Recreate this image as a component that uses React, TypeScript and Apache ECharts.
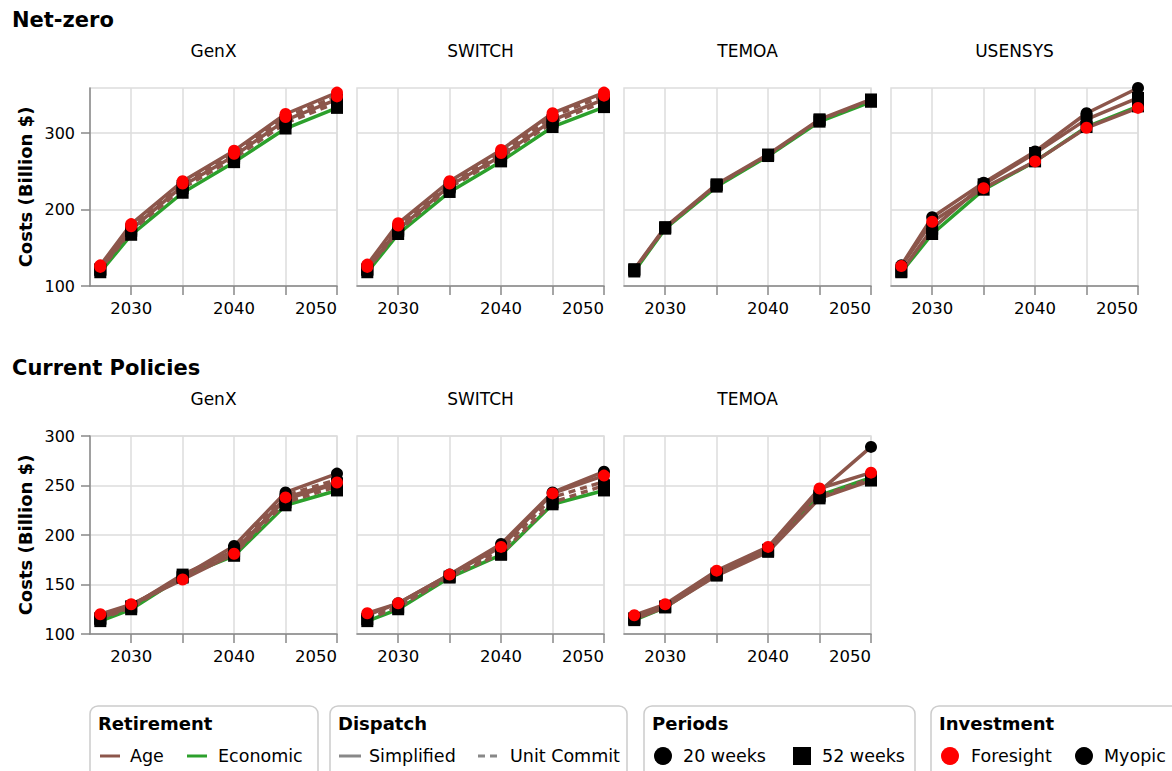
import React, { useEffect, useRef } from "react";
import * as echarts from "echarts";

const FONT = "DejaVu Sans";

const years = [2027, 2030, 2035, 2040, 2045, 2050];
const xLabelValues = [2030, 2040, 2050];
const xTickValues = [2030, 2035, 2040, 2045, 2050];
const nzYTicks = [100, 200, 300];
const cpYTicks = [100, 150, 200, 250, 300];

const rowTitles = ["Net-zero", "Current Policies"];
const nzModels = ["GenX", "SWITCH", "TEMOA", "USENSYS"];
const cpModels = ["GenX", "SWITCH", "TEMOA"];

const retirementLabels = ["Age", "Economic"];
const dispatchLabels = ["Simplified", "Unit Commit"];
const periodLabels = ["20 weeks", "52 weeks"];
const investmentLabels = ["Foresight", "Myopic"];

// Net-zero GenX
const nzGenxEcoSimp52Myo = [118, 167, 222, 262, 306, 333];
const nzGenxAgeUc52Myo = [121, 172, 228, 267, 313, 340];
const nzGenxAgeSimp52Myo = [122, 174, 231, 270, 317, 344];
const nzGenxAgeUc20For = [125, 178, 234, 273, 321, 348];
const nzGenxAgeSimp20For = [127, 181, 237, 277, 325, 353];
// Net-zero SWITCH
const nzSwitchEcoSimp52Myo = [118, 168, 223, 263, 308, 334];
const nzSwitchAgeUc52Myo = [121, 172, 229, 268, 314, 341];
const nzSwitchAgeSimp52Myo = [122, 174, 231, 270, 317, 344];
const nzSwitchAgeUc20For = [125, 179, 234, 274, 322, 349];
const nzSwitchAgeSimp20For = [128, 182, 237, 278, 326, 353];
// Net-zero TEMOA
const nzTemoaEcoSimp52Myo = [119, 175, 230, 270, 315, 341];
const nzTemoaAgeUc52Myo = [121, 176, 232, 271, 317, 343];
const nzTemoaAgeSimp52Myo = [122, 177, 233, 272, 318, 344];
// Net-zero USENSYS
const nzUsensysEcoSimp52Myo = [118, 168, 226, 263, 308, 335];
const nzUsensysAgeSimp20For = [126, 184, 228, 263, 307, 333];
const nzUsensysAgeSimp52Myo = [119, 175, 233, 274, 318, 346];
const nzUsensysAgeSimp20Myo = [127, 190, 235, 276, 326, 359];
// Current Policies GenX
const cpGenxEcoSimp52Myo = [113, 125, 158, 179, 230, 245];
const cpGenxAgeUc52Myo = [115, 127, 157, 181, 233, 249];
const cpGenxAgeSimp52Myo = [116, 128, 160, 184, 236, 252];
const cpGenxAgeUc20Myo = [118, 129, 157, 186, 240, 256];
const cpGenxAgeSimp20Myo = [119, 129, 158, 189, 243, 262];
const cpGenxAgeSimp20For = [120, 130, 155, 181, 238, 253];
// Current Policies SWITCH
const cpSwitchEcoSimp52Myo = [113, 125, 157, 180, 231, 245];
const cpSwitchAgeUc52Myo = [115, 127, 158, 181, 233, 250];
const cpSwitchAgeUc20Myo = [118, 129, 158, 185, 238, 254];
const cpSwitchAgeSimp20Myo = [119, 131, 160, 191, 243, 264];
const cpSwitchAgeSimp20For = [121, 131, 160, 188, 242, 260];
// Current Policies TEMOA
const cpTemoaEcoSimp52Myo = [114, 127, 160, 184, 240, 258];
const cpTemoaAgeSimp52Myo = [115, 127, 159, 183, 237, 255];
const cpTemoaAgeUc52Myo = [116, 128, 161, 185, 239, 257];
const cpTemoaAgeSimp20Myo = [118, 129, 162, 187, 244, 289];
const cpTemoaAgeSimp20For = [119, 130, 164, 188, 247, 263];

type S = { ret: number; disp: number; per: number; inv: number; data: number[] };
const mk = (ret: number, disp: number, per: number, inv: number, data: number[]): S => ({ ret, disp, per, inv, data });

const panels = [
  { row: 0, col: 0, series: [mk(1, 0, 1, 1, nzGenxEcoSimp52Myo), mk(0, 1, 1, 1, nzGenxAgeUc52Myo), mk(0, 0, 1, 1, nzGenxAgeSimp52Myo), mk(0, 1, 0, 0, nzGenxAgeUc20For), mk(0, 0, 0, 0, nzGenxAgeSimp20For)] },
  { row: 0, col: 1, series: [mk(1, 0, 1, 1, nzSwitchEcoSimp52Myo), mk(0, 1, 1, 1, nzSwitchAgeUc52Myo), mk(0, 0, 1, 1, nzSwitchAgeSimp52Myo), mk(0, 1, 0, 0, nzSwitchAgeUc20For), mk(0, 0, 0, 0, nzSwitchAgeSimp20For)] },
  { row: 0, col: 2, series: [mk(1, 0, 1, 1, nzTemoaEcoSimp52Myo), mk(0, 1, 1, 1, nzTemoaAgeUc52Myo), mk(0, 0, 1, 1, nzTemoaAgeSimp52Myo)] },
  { row: 0, col: 3, series: [mk(1, 0, 1, 1, nzUsensysEcoSimp52Myo), mk(0, 0, 0, 0, nzUsensysAgeSimp20For), mk(0, 0, 1, 1, nzUsensysAgeSimp52Myo), mk(0, 0, 0, 1, nzUsensysAgeSimp20Myo)] },
  { row: 1, col: 0, series: [mk(1, 0, 1, 1, cpGenxEcoSimp52Myo), mk(0, 1, 1, 1, cpGenxAgeUc52Myo), mk(0, 0, 1, 1, cpGenxAgeSimp52Myo), mk(0, 1, 0, 1, cpGenxAgeUc20Myo), mk(0, 0, 0, 1, cpGenxAgeSimp20Myo), mk(0, 0, 0, 0, cpGenxAgeSimp20For)] },
  { row: 1, col: 1, series: [mk(1, 0, 1, 1, cpSwitchEcoSimp52Myo), mk(0, 1, 1, 1, cpSwitchAgeUc52Myo), mk(0, 1, 0, 1, cpSwitchAgeUc20Myo), mk(0, 0, 0, 1, cpSwitchAgeSimp20Myo), mk(0, 0, 0, 0, cpSwitchAgeSimp20For)] },
  { row: 1, col: 2, series: [mk(1, 0, 1, 1, cpTemoaEcoSimp52Myo), mk(0, 0, 1, 1, cpTemoaAgeSimp52Myo), mk(0, 1, 1, 1, cpTemoaAgeUc52Myo), mk(0, 0, 0, 1, cpTemoaAgeSimp20Myo), mk(0, 0, 0, 0, cpTemoaAgeSimp20For)] },
];

const RET_COLORS = ["#8c564b", "#2ca02c"];
const INV_COLORS = ["#ff0000", "#000000"];
const DASH: any[] = ["solid", [7, 5]];

const GRID_LEFTS = [90, 357, 624, 891];
const GRID_TOPS = [88, 436];
const GW = 247;
const GH = 198;
const ROW_SHIFT = 348;

function buildOption() {
  const grid: any[] = [];
  const xAxis: any[] = [];
  const yAxis: any[] = [];
  const series: any[] = [];
  panels.forEach((p, gi) => {
    grid.push({
      left: GRID_LEFTS[p.col], top: GRID_TOPS[p.row], width: GW, height: GH,
      show: true, borderColor: "#dddddd", borderWidth: 1.5, backgroundColor: "transparent",
    });
    xAxis.push({
      type: "value", gridIndex: gi, min: 2026, max: 2050,
      axisLine: { show: true, onZero: false, lineStyle: { color: "#888888", width: 1.5 } },
      axisTick: { show: true, length: 9, customValues: xTickValues, lineStyle: { color: "#888888", width: 1.5 } },
      axisLabel: { customValues: xLabelValues, alignMaxLabel: "right", formatter: (v: number) => String(v), fontSize: 16.5, fontFamily: FONT, color: "#000", margin: 14 },
      splitLine: { show: true, lineStyle: { color: "#dddddd", width: 1.5 } },
    });
    const first = p.col === 0;
    const nz = p.row === 0;
    yAxis.push({
      type: "value", gridIndex: gi, min: 100, max: nz ? 359 : 300, interval: nz ? 100 : 50,
      axisLine: { show: first, lineStyle: { color: "#888888", width: 1.5 } },
      axisTick: { show: first, length: 9, customValues: nz ? nzYTicks : cpYTicks, lineStyle: { color: "#888888", width: 1.5 } },
      axisLabel: { show: first, customValues: nz ? nzYTicks : cpYTicks, fontSize: 16, fontFamily: FONT, color: "#000", margin: 15 },
      splitLine: { show: true, lineStyle: { color: "#dddddd", width: 1.5 } },
    });
    p.series.forEach((s) => {
      const pts = years.map((y, i) => [y, s.data[i]]);
      series.push({
        type: "line", xAxisIndex: gi, yAxisIndex: gi, data: pts, silent: true,
        showSymbol: false, symbol: "none", z: s.ret === 1 ? 2 : 3,
        lineStyle: { color: RET_COLORS[s.ret], width: 3.5, type: DASH[s.disp] },
      });
    });
    p.series.forEach((s) => {
      const pts = years.map((y, i) => [y, s.data[i]]);
      series.push({
        type: "scatter", xAxisIndex: gi, yAxisIndex: gi, data: pts, silent: true,
        symbol: s.per === 0 ? "circle" : "rect", symbolSize: 12,
        z: s.inv === 0 ? 7 : s.per === 0 ? 6 : 5,
        itemStyle: { color: INV_COLORS[s.inv], opacity: 1 },
      });
    });
  });

  const graphic: any[] = [];
  const txt = (x: number, y: number, text: string, size: number, bold: boolean, align = "left", rotation = 0) => ({
    type: "text", x, y, rotation, silent: true,
    style: { text, fontSize: size, fontFamily: FONT, fontWeight: bold ? "bold" : "normal", fill: "#000", align, verticalAlign: "middle" },
  });
  rowTitles.forEach((t, r) => {
    graphic.push(txt(12, 20 + r * ROW_SHIFT, t, 21, true));
    graphic.push(txt(25, GRID_TOPS[r] + GH / 2, "Costs (Billion $)", 18, true, "center", Math.PI / 2));
  });
  nzModels.forEach((m, c) => graphic.push(txt(GRID_LEFTS[c] + GW / 2, 51, m, 17, false, "center")));
  cpModels.forEach((m, c) => graphic.push(txt(GRID_LEFTS[c] + GW / 2, 51 + ROW_SHIFT, m, 17, false, "center")));

  // legends
  const boxTop = 706;
  const titleY = 723;
  const itemY = 756;
  const boxes = [
    { x: 90, w: 228, title: "Retirement" },
    { x: 330, w: 297, title: "Dispatch" },
    { x: 644, w: 271, title: "Periods" },
    { x: 931, w: 260, title: "Investment" },
  ];
  boxes.forEach((b) => {
    graphic.push({ type: "rect", silent: true, shape: { x: b.x, y: boxTop, width: b.w, height: 90, r: 8 }, style: { fill: "none", stroke: "#cccccc", lineWidth: 1.5 } });
    graphic.push(txt(b.x + 8, titleY, b.title, 18, true));
  });
  const lineItem = (x1: number, x2: number, color: string, dash: any) => ({
    type: "line", silent: true, shape: { x1, y1: itemY, x2, y2: itemY },
    style: { stroke: color, lineWidth: 3, lineDash: dash === "solid" ? null : dash },
  });
  graphic.push(lineItem(100, 120, RET_COLORS[0], "solid"));
  graphic.push(txt(130, itemY, retirementLabels[0], 17.5, false));
  graphic.push(lineItem(187, 207, RET_COLORS[1], "solid"));
  graphic.push(txt(218, itemY, retirementLabels[1], 17.5, false));
  graphic.push(lineItem(339, 361, "#888888", "solid"));
  graphic.push(txt(369, itemY, dispatchLabels[0], 17.5, false));
  graphic.push(lineItem(478, 501, "#888888", [7, 5]));
  graphic.push(txt(510, itemY, dispatchLabels[1], 17.5, false));
  graphic.push({ type: "circle", silent: true, shape: { cx: 663, cy: itemY, r: 9 }, style: { fill: "#000" } });
  graphic.push(txt(683, itemY, periodLabels[0], 17.5, false));
  graphic.push({ type: "rect", silent: true, shape: { x: 793, y: itemY - 9, width: 18, height: 18 }, style: { fill: "#000" } });
  graphic.push(txt(822, itemY, periodLabels[1], 17.5, false));
  graphic.push({ type: "circle", silent: true, shape: { cx: 950, cy: itemY, r: 9 }, style: { fill: INV_COLORS[0] } });
  graphic.push(txt(971, itemY, investmentLabels[0], 17.5, false));
  graphic.push({ type: "circle", silent: true, shape: { cx: 1084, cy: itemY, r: 9 }, style: { fill: INV_COLORS[1] } });
  graphic.push(txt(1104, itemY, investmentLabels[1], 17.5, false));

  return { animation: false, backgroundColor: "#ffffff", grid, xAxis, yAxis, series, graphic };
}

export default function App() {
  const ref = useRef<HTMLDivElement>(null);
  useEffect(() => {
    if (!ref.current) return;
    const chart = echarts.init(ref.current, null, { renderer: "svg" });
    chart.setOption(buildOption() as any);
    return () => chart.dispose();
  }, []);
  return <div ref={ref} style={{ position: "absolute", left: 0, top: 0, width: 1172, height: 771 }} />;
}
